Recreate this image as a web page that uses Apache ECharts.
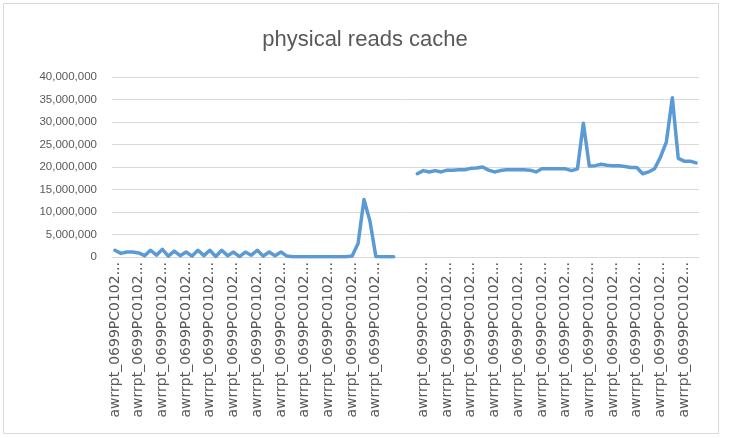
<!DOCTYPE html>
<html>
<head>
<meta charset="utf-8">
<script src="https://cdn.jsdelivr.net/npm/echarts@6/dist/echarts.min.js"></script>
<style>
  html, body { margin: 0; padding: 0; background: #fff; }
  #chart { width: 730px; height: 438px; }
</style>
</head>
<body>
<div id="chart"></div>
<script>
// report names (truncated the way the axis shows them); three empty slots between the runs
const L = 'awrrpt_0699PC0102...'
const categories = [
    L, L, L, L, L, L, L, L, L, L, L, L, L, L, L, L,
    L, L, L, L, L, L, L, L, L, L, L, L, L, L, L, L,
    L, L, L, L, L, L, L, L, L, L, L, L, L, L, L, L,
    '', '', '',
    L, L, L, L, L, L, L, L, L, L, L, L, L, L, L, L,
    L, L, L, L, L, L, L, L, L, L, L, L, L, L, L, L,
    L, L, L, L, L, L, L, L, L, L, L, L, L, L, L, L
]

// physical reads cache, in millions
const firstRun = [
    1.5, 0.8, 1.1, 1.1, 0.9, 0.3, 1.5, 0.4, 1.7, 0.2, 1.3, 0.3, 1.1, 0.2, 1.5, 0.3,
    1.5, 0.1, 1.5, 0.3, 1.1, 0.1, 1.1, 0.4, 1.5, 0.2, 1.1, 0.3, 1.1, 0.2, 0.05, 0.05,
    0.05, 0.05, 0.05, 0.05, 0.05, 0.05, 0.05, 0.05, 0.2, 3.0, 12.8, 8.0, 0.1, 0.05, 0.05, 0.05
]
const gap = [null, null, null]
const secondRun = [
    18.5, 19.2, 18.9, 19.2, 18.9, 19.3, 19.3, 19.4, 19.4, 19.7, 19.8, 20.0, 19.3, 18.9, 19.2, 19.4,
    19.4, 19.4, 19.4, 19.3, 18.9, 19.6, 19.6, 19.6, 19.6, 19.6, 19.2, 19.6, 29.7, 20.2, 20.3, 20.6,
    20.4, 20.3, 20.3, 20.1, 19.9, 19.9, 18.5, 18.9, 19.6, 22.2, 25.6, 35.4, 21.9, 21.3, 21.3, 20.9
]

const yTicks = { min: 0, max: 40000000, interval: 5000000 }

const values = firstRun.concat(gap, secondRun).map(v => v === null ? null : Math.round(v * 1000000))

const myChart = echarts.init(document.getElementById('chart'))

const option = {
    animation: false,
    backgroundColor: '#ffffff',
    title: {
        text: 'physical reads cache',
        left: 'center',
        top: 24,
        textStyle: {
            fontFamily: 'Liberation Sans',
            fontSize: 22,
            fontWeight: 'normal',
            color: '#595959'
        }
    },
    graphic: [
        {
            type: 'rect',
            shape: { x: 3.5, y: 3.5, width: 715, height: 430 },
            style: { fill: 'none', stroke: '#d9d9d9', lineWidth: 1 },
            silent: true
        }
    ],
    grid: {
        left: 112,
        right: 31,
        top: 77,
        bottom: 181
    },
    xAxis: {
        type: 'category',
        data: categories,
        boundaryGap: true,
        axisTick: { show: false },
        axisLine: { lineStyle: { color: '#d9d9d9', width: 1 } },
        axisLabel: {
            interval: 3,
            rotate: 90,
            margin: 5,
            fontFamily: 'DejaVu Sans',
            fontSize: 14,
            color: '#595959'
        }
    },
    yAxis: {
        type: 'value',
        min: yTicks.min,
        max: yTicks.max,
        interval: yTicks.interval,
        axisLine: { show: false },
        axisTick: { show: false },
        splitLine: { lineStyle: { color: '#d9d9d9', width: 1 } },
        axisLabel: {
            margin: 15,
            fontFamily: 'Liberation Sans',
            fontSize: 11.5,
            color: '#595959',
            formatter: v => v.toLocaleString('en-US')
        }
    },
    series: [
        {
            name: 'physical reads cache',
            type: 'line',
            data: values,
            showSymbol: false,
            connectNulls: false,
            lineStyle: { color: '#5b9bd5', width: 3.5, cap: 'round', join: 'round' },
            itemStyle: { color: '#5b9bd5' }
        }
    ]
}

myChart.setOption(option)
</script>
</body>
</html>
